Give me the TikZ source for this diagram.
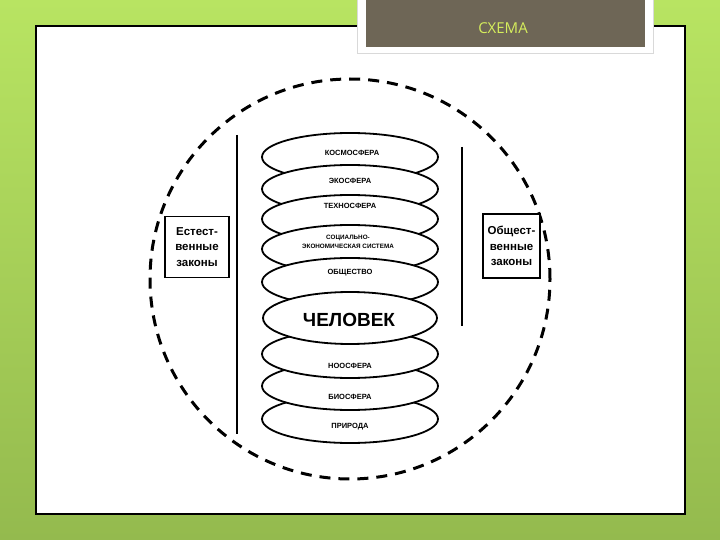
\documentclass[tikz,border=0pt]{standalone}
\usepackage{fontspec}
\setmainfont{Liberation Sans}
\newfontfamily\titlefont{Open Sans}
\usetikzlibrary{shapes.geometric}

\definecolor{slidegreen}{RGB}{184,228,98}
\definecolor{slidegreendark}{RGB}{148,186,78}
\definecolor{titlebox}{RGB}{110,102,86}
\definecolor{titletext}{RGB}{214,238,92}

\begin{document}
\begin{tikzpicture}[x=1pt,y=-1pt,
  sphere/.style={ellipse, draw, fill=white, line width=1.8pt, minimum width=176pt, minimum height=48pt, inner sep=0pt},
  spheretext/.style={font=\bfseries\fontsize{7.5}{8}\selectfont, align=center, inner sep=0pt},
  lawbox/.style={draw, line width=1.8pt, fill=white, align=center, font=\bfseries\fontsize{11.5}{15.5}\selectfont, inner sep=0pt},
  border/.style={circle, draw, dash pattern=on 11pt off 8pt, line width=3pt, minimum size=400pt, inner sep=0pt}]
\useasboundingbox (0,0) rectangle (720,540);
% slide
\shade[top color=slidegreen, bottom color=slidegreendark] (0,0) rectangle (720,540);
\draw[fill=white, line width=1.3pt] (36,26) rectangle (685,514);
\draw[fill=white, draw=black!15, line width=0.8pt] (357,-2) rectangle (653,53);
\fill[titlebox] (366,-2) rectangle (645,47);
\node[font=\titlefont\fontsize{15}{15}\selectfont, text=titletext] (title) at (503,28) {СХЕМА};

% outer circle and walls
\node[border] (world) at (350,279) {};
\coordinate (ltop) at (237,135);
\coordinate (lbot) at (237,434);
\coordinate (rtop) at (462,147);
\coordinate (rbot) at (462,326);
\draw[line width=1.8pt] (ltop) -- (lbot);
\draw[line width=1.8pt] (rtop) -- (rbot);

% laws
\node[lawbox, minimum width=64pt, minimum height=61pt] (natlaws) at (197,247) {Естест-\\венные\\законы};
\node[lawbox, minimum width=57pt, minimum height=64pt] (soclaws) at (511.5,246) {Общест-\\венные\\законы};

% spheres above
\node[sphere] (kosmos) at (350,157) {};
\node[sphere] (eko) at (350,189) {};
\node[sphere] (tekhno) at (350,219) {};
\node[sphere] (sotsek) at (350,249) {};
\node[sphere] (obshch) at (350,282) {};
% spheres below
\node[sphere] (priroda) at (350,419) {};
\node[sphere] (bio) at (350,386) {};
\node[sphere] (noo) at (350,354) {};
% man
\node[sphere, minimum width=174pt, minimum height=52pt] (chelovek) at (350,318) {};

\node[spheretext] (tkosmos) at (352,153) {КОСМОСФЕРА};
\node[spheretext] (teko) at (350,181) {ЭКОСФЕРА};
\node[spheretext] (ttekhno) at (350,206) {ТЕХНОСФЕРА};
\node[spheretext, font=\bfseries\fontsize{6.3}{8.5}\selectfont] (tsotsek) at (348,242) {СОЦИАЛЬНО-\\ЭКОНОМИЧЕСКАЯ СИСТЕМА};
\node[spheretext] (tobshch) at (350,273) {ОБЩЕСТВО};
\node[spheretext, font=\bfseries\fontsize{19}{20}\selectfont] (tchelovek) at (349,320) {ЧЕЛОВЕК};
\node[spheretext] (tnoo) at (350,366) {НООСФЕРА};
\node[spheretext] (tbio) at (350,397) {БИОСФЕРА};
\node[spheretext] (tpriroda) at (350,427) {ПРИРОДА};
\end{tikzpicture}
\end{document}
